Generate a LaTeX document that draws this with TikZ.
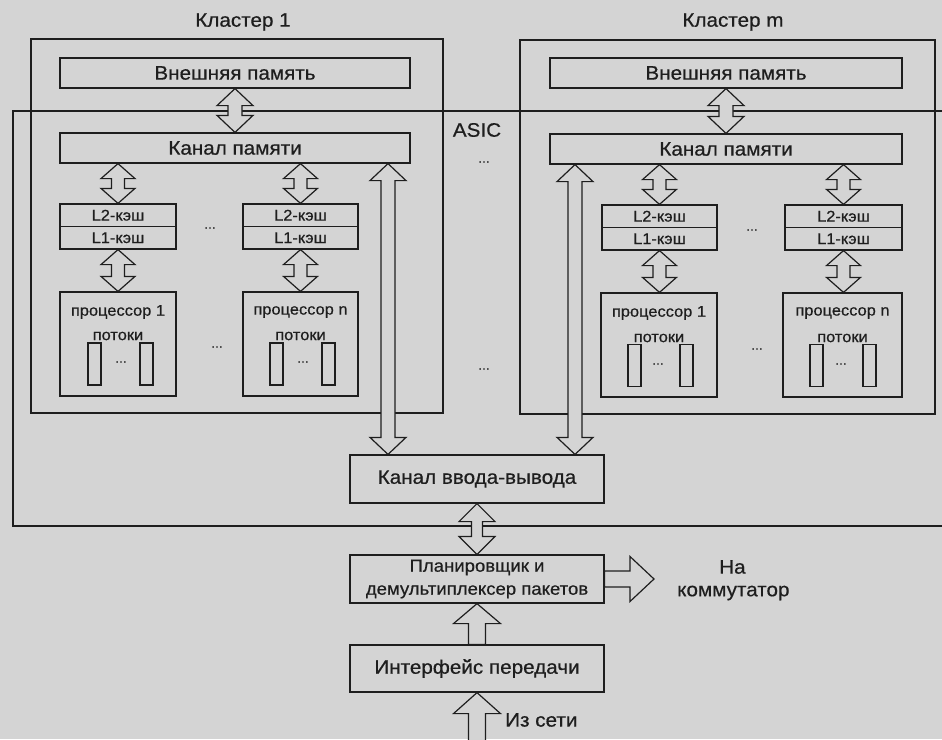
\documentclass[tikz,border=0pt]{standalone}
\usepackage{fontspec}
\setmainfont{Liberation Sans}[FakeStretch=1.06,FakeBold=0.6]
\usetikzlibrary{calc}
\definecolor{bg}{RGB}{212,212,212}
\definecolor{ink}{RGB}{30,30,30}
\tikzset{
  box/.style={draw=ink, line width=1.2pt, fill=bg, inner sep=0pt, text=ink, font=\fontsize{19.5}{21}\selectfont},
  sbox/.style={box, font=\fontsize{15.5}{17}\selectfont},
  thread/.style={draw=ink, line width=1.1pt, minimum width=13pt, minimum height=42pt, inner sep=0pt},
  frame/.style={draw=ink, line width=1.2pt, inner sep=0pt},
  arr/.style={draw=ink, line width=1.2pt, fill=bg, line join=miter},
  lbl/.style={text=ink, inner sep=0pt, font=\fontsize{19.5}{21}\selectfont},
  slbl/.style={text=ink, inner sep=0pt, font=\fontsize{15.5}{17}\selectfont},
  dots/.style={text=ink, inner sep=0pt, font=\fontsize{13}{13}\selectfont},
}
% vertical double arrow: top, bottom, head half-width, shaft half-width, head length
\newcommand\dblv[5]{%
  \filldraw[arr] let \p1=#1, \p2=#2 in
    (\x1,\y1) -- (\x1+#3,\y1-#5) -- (\x1+#4,\y1-#5) -- (\x1+#4,\y2+#5) -- (\x1+#3,\y2+#5)
    -- (\x1,\y2) -- (\x1-#3,\y2+#5) -- (\x1-#4,\y2+#5) -- (\x1-#4,\y1-#5) -- (\x1-#3,\y1-#5) -- cycle;}
% upward arrow: tip, base
\newcommand\upar[5]{%
  \filldraw[arr] let \p1=#1, \p2=#2 in
    (\x1,\y1) -- (\x1+#3,\y1-#5) -- (\x1+#4,\y1-#5) -- (\x1+#4,\y2) -- (\x1-#4,\y2)
    -- (\x1-#4,\y1-#5) -- (\x1-#3,\y1-#5) -- cycle;}
% rightward arrow: base, tip
\newcommand\rar[5]{%
  \filldraw[arr] let \p1=#1, \p2=#2 in
    (\x2,\y1) -- (\x2-#5,\y1+#3) -- (\x2-#5,\y1+#4) -- (\x1,\y1+#4) -- (\x1,\y1-#4)
    -- (\x2-#5,\y1-#4) -- (\x2-#5,\y1-#3) -- cycle;}
\begin{document}
\begin{tikzpicture}[x=1pt,y=-1pt]
  \fill[bg] (0,0) rectangle (942,739);
  \useasboundingbox (0,0) rectangle (942,739);
  \clip (0,0) rectangle (942,739);

  % ASIC outline (open to the right)
  \draw[frame] (960,111) -- (13,111) -- (13,526) -- (960,526);
  \node[lbl] (asic) at (477,130) {ASIC};

  % cluster frames
  \node[frame, minimum width=412pt, minimum height=374pt] (cl1) at (237,226) {};
  \node[frame, minimum width=415pt, minimum height=374pt] (clm) at (727.5,227) {};
  \node[lbl] (cl1t) at (243,22) {Кластер 1};
  \node[lbl] (clmt) at (733,22) {Кластер m};

  % cluster 1
  \node[box, minimum width=350pt, minimum height=30pt] (ext1) at (235,73) {Внешняя память};
  \node[box, minimum width=350pt, minimum height=30pt] (km1) at (235,148) {Канал памяти};
  \node[sbox, minimum width=116pt, minimum height=22.5pt] (l2a) at (118,215.25) {L2-кэш};
  \node[sbox, minimum width=116pt, minimum height=22.5pt] (l1a) at (118,237.75) {L1-кэш};
  \node[sbox, minimum width=115pt, minimum height=22.5pt] (l2b) at (300.5,215.25) {L2-кэш};
  \node[sbox, minimum width=115pt, minimum height=22.5pt] (l1b) at (300.5,237.75) {L1-кэш};
  \node[dots] (d1a) at (210,228) {...};
  \node[box, minimum width=116pt, minimum height=104pt] (p1a) at (118,344) {};
  \node[box, minimum width=115pt, minimum height=104pt] (p1b) at (300.5,344) {};
  \node[slbl] (p1at) at (118,312) {процессор 1};
  \node[slbl] (p1as) at (118,336) {потоки};
  \node[slbl] (p1bt) at (300.5,312) {процессор n};
  \node[slbl] (p1bs) at (300.5,336) {потоки};
  \node[thread] (t1a1) at (94.5,364) {};
  \node[thread] (t1a2) at (146.5,364) {};
  \node[dots] (d1t1) at (121,362) {...};
  \node[thread] (t1b1) at (276.5,364) {};
  \node[thread] (t1b2) at (328.5,364) {};
  \node[dots] (d1t2) at (303,362) {...};
  \node[dots] (d1p) at (217,347) {...};

  % cluster m
  \node[box, minimum width=352pt, minimum height=30pt] (extm) at (726,73) {Внешняя память};
  \node[box, minimum width=352pt, minimum height=30pt] (kmm) at (726,149) {Канал памяти};
  \node[sbox, minimum width=115pt, minimum height=22.5pt] (l2c) at (659.5,216.25) {L2-кэш};
  \node[sbox, minimum width=115pt, minimum height=22.5pt] (l1c) at (659.5,238.75) {L1-кэш};
  \node[sbox, minimum width=117pt, minimum height=22.5pt] (l2d) at (843.5,216.25) {L2-кэш};
  \node[sbox, minimum width=117pt, minimum height=22.5pt] (l1d) at (843.5,238.75) {L1-кэш};
  \node[dots] (dma) at (752,230) {...};
  \node[box, minimum width=116pt, minimum height=104pt] (pma) at (659,345) {};
  \node[box, minimum width=119pt, minimum height=104pt] (pmb) at (842.5,345) {};
  \node[slbl] (pmat) at (659,313) {процессор 1};
  \node[slbl] (pmas) at (659,338) {потоки};
  \node[slbl] (pmbt) at (842.5,313) {процессор n};
  \node[slbl] (pmbs) at (842.5,338) {потоки};
  \node[thread] (tma1) at (634.5,365.5) {};
  \node[thread] (tma2) at (686.5,365.5) {};
  \node[dots] (dmt1) at (658,364) {...};
  \node[thread] (tmb1) at (816.5,365.5) {};
  \node[thread] (tmb2) at (869.5,365.5) {};
  \node[dots] (dmt2) at (841,364) {...};
  \node[dots] (dmp) at (757,349) {...};

  % between clusters
  \node[dots] (dc1) at (484,162) {...};
  \node[dots] (dc2) at (484,369) {...};

  % I/O path
  \node[box, minimum width=254pt, minimum height=48pt] (io) at (477,479) {Канал ввода-вывода};
  \node[box, minimum width=254pt, minimum height=48pt, align=center,
        font=\fontsize{17.5}{23}\selectfont] (plan) at (477,579) {Планировщик и\\демультиплексер пакетов};
  \node[box, minimum width=254pt, minimum height=47pt] (intf) at (477,668.5) {Интерфейс передачи};
  \node[lbl, anchor=west] (na) at (719,567) {На};
  \node[lbl, anchor=west] (komm) at (677,593) {коммутатор};
  \node[lbl, anchor=west] (net) at (505,720) {Из сети};

  \coordinate (v1) at (388,300);
  \coordinate (vm) at (575,300);
  \coordinate (src) at (477,750);
  \coordinate (sw) at (654,580);

  % arrows, cluster 1
  \dblv{(ext1.south)}{(km1.north)}{18pt}{7pt}{17pt}
  \dblv{(km1.south -| l2a.north)}{(l2a.north)}{17pt}{6.5pt}{15pt}
  \dblv{(km1.south -| l2b.north)}{(l2b.north)}{17pt}{6.5pt}{15pt}
  \dblv{(l1a.south)}{(p1a.north)}{17pt}{6.5pt}{15pt}
  \dblv{(l1b.south)}{(p1b.north)}{17pt}{6.5pt}{15pt}
  % arrows, cluster m
  \dblv{(extm.south)}{(kmm.north)}{18pt}{7pt}{17pt}
  \dblv{(kmm.south -| l2c.north)}{(l2c.north)}{17pt}{6.5pt}{15pt}
  \dblv{(kmm.south -| l2d.north)}{(l2d.north)}{17pt}{6.5pt}{15pt}
  \dblv{(l1c.south)}{(pma.north)}{17pt}{6.5pt}{15pt}
  \dblv{(l1d.south)}{(pmb.north)}{17pt}{6.5pt}{15pt}
  % memory channels to I/O channel
  \dblv{(km1.south -| v1)}{(io.north -| v1)}{18pt}{7pt}{17pt}
  \dblv{(kmm.south -| vm)}{(io.north -| vm)}{18pt}{7pt}{17pt}
  % I/O to scheduler, interface, network, switch
  \dblv{(io.south)}{(plan.north)}{18pt}{5.5pt}{18pt}
  \upar{(plan.south)}{(intf.north)}{23.5pt}{8.5pt}{20pt}
  \upar{(intf.south)}{(src)}{23.5pt}{8.5pt}{21pt}
  \rar{(plan.east)}{(sw)}{22.5pt}{8pt}{24pt}
\end{tikzpicture}
\end{document}
